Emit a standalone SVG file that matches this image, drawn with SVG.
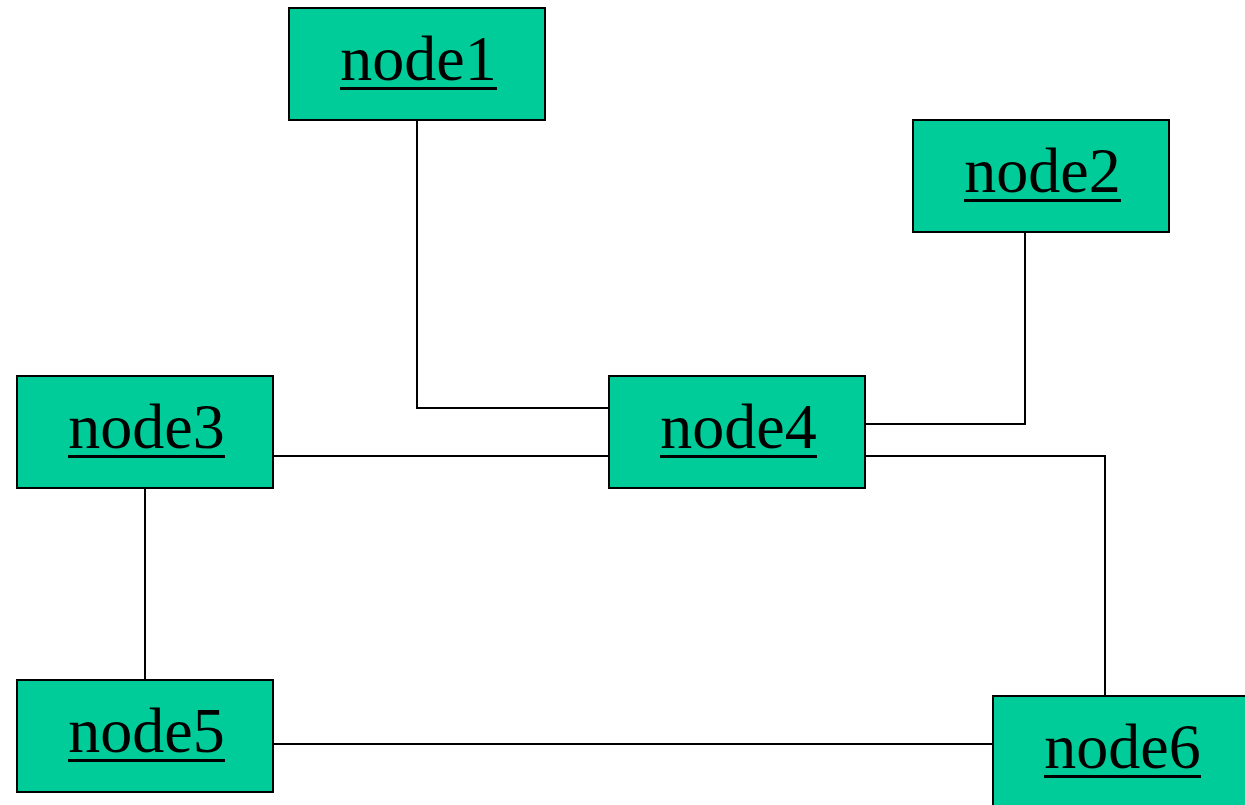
<svg xmlns="http://www.w3.org/2000/svg" width="1245" height="805" viewBox="0 0 1245 805">
  <style>
    .box { fill: #00cc99; stroke: #000; stroke-width: 2; }
    .label { font-family: "Liberation Serif", "Times New Roman", serif; font-size: 64px; fill: #000; text-anchor: middle; }
    .uline { stroke: #000; stroke-width: 3; }
    .edge { fill: none; stroke: #000; stroke-width: 2; }
  </style>
  <defs>
    <!-- underline stroke under each label, placed relative to the label centre/baseline -->
    <line id="ul" class="uline" x1="-77" y1="8.5" x2="80" y2="8.5"/>
  </defs>
  <rect width="1245" height="805" fill="#fff"/>
  <g id="connectors">
    <polyline class="edge" points="417,120 417,408 609,408"/>
    <polyline class="edge" points="1025,232 1025,424 865,424"/>
    <line class="edge" x1="273" y1="456" x2="609" y2="456"/>
    <polyline class="edge" points="865,456 1105,456 1105,696"/>
    <line class="edge" x1="145" y1="488" x2="145" y2="680"/>
    <line class="edge" x1="273" y1="744" x2="993" y2="744"/>
  </g>
  <g id="node1">
    <rect class="box" x="289" y="8" width="256" height="112"/>
    <text class="label" x="418.5" y="80">node1</text>
    <use href="#ul" x="417" y="80"/>
  </g>
  <g id="node2">
    <rect class="box" x="913" y="120" width="256" height="112"/>
    <text class="label" x="1042.5" y="192">node2</text>
    <use href="#ul" x="1041" y="192"/>
  </g>
  <g id="node3">
    <rect class="box" x="17" y="376" width="256" height="112"/>
    <text class="label" x="146.5" y="448">node3</text>
    <use href="#ul" x="145" y="448"/>
  </g>
  <g id="node4">
    <rect class="box" x="609" y="376" width="256" height="112"/>
    <text class="label" x="738.5" y="448">node4</text>
    <use href="#ul" x="737" y="448"/>
  </g>
  <g id="node5">
    <rect class="box" x="17" y="680" width="256" height="112"/>
    <text class="label" x="146.5" y="752">node5</text>
    <use href="#ul" x="145" y="752"/>
  </g>
  <g id="node6">
    <rect class="box" x="993" y="696" width="256" height="112"/>
    <text class="label" x="1122.5" y="768">node6</text>
    <use href="#ul" x="1121" y="768"/>
  </g>
</svg>
